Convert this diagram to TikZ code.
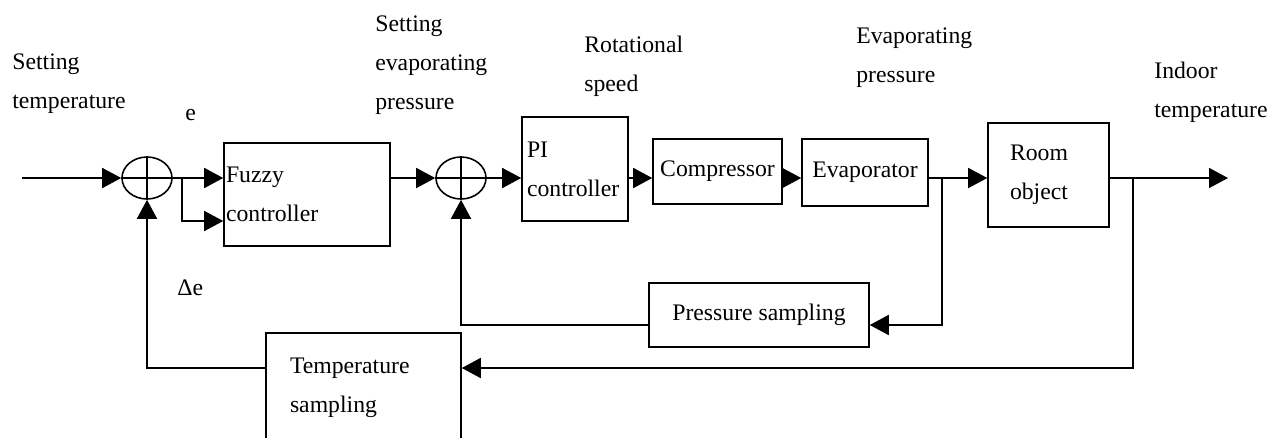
\documentclass[tikz,border=0pt]{standalone}
\usepackage{fontspec}
\setmainfont{Liberation Serif}
\usetikzlibrary{arrows.meta,positioning,calc,shapes.geometric}
\tikzset{block/.style={rectangle,draw=black,line width=0.9pt,inner sep=0pt,align=left},summer/.style={ellipse,draw=black,line width=0.9pt,minimum width=1.0cm,minimum height=0.84cm,inner sep=0pt},wire/.style={draw=black,line width=0.9pt},flow/.style={draw=black,line width=0.9pt,-{Triangle[length=0.38cm,width=0.40cm]}},signame/.style={anchor=west,inner sep=0pt,align=left,text=black}}

\begin{document}
\begin{tikzpicture}[x=0.02cm,y=-0.02cm,font=\fontsize{13.5pt}{22.2pt}\selectfont]
\path[use as bounding box] (0,0) rectangle (1270,437);
\clip (0,0) rectangle (1270,437);
\fill[white] (0,0) rectangle (1270,437);
\node[summer] (s1) at (147,178) {};\node[summer] (s2) at (461,178) {};
\draw[wire] (s1.north)--(s1.south) (s1.west)--(s1.east);\draw[wire] (s2.north)--(s2.south) (s2.west)--(s2.east);
\node[block,minimum width=3.32cm,minimum height=2.06cm,inner xsep=0.04cm,text width=3.24cm] (fz) at (307,194.5) {Fuzzy\\controller};
\node[block,minimum width=2.12cm,minimum height=2.08cm,inner xsep=0.1cm,text width=1.92cm] (pi) at (575,169) {PI\\controller};
\node[block,minimum width=2.58cm,minimum height=1.30cm,align=center] (cp) at (717.5,171.5) {Compressor};
\node[block,minimum width=2.52cm,minimum height=1.34cm,align=center] (ev) at (865,172.5) {Evaporator};
\node[block,minimum width=2.42cm,minimum height=2.08cm,inner xsep=0.44cm,text width=1.54cm] (rm) at (1048.5,175) {Room\\object};
\node[block,minimum width=4.40cm,minimum height=1.28cm,align=center] (ps) at (759,315) {Pressure sampling};
\node[block,minimum width=3.90cm,minimum height=2.18cm,inner xsep=0.48cm,text width=2.94cm] (ts) at (363.5,387.5) {Temperature\\sampling};
\node[signame] (lsp) at (12,84) {Setting\\temperature};\node[signame] (le) at (185,115) {e};\node[signame] (lde) at (177,288) {Δe};
\node[signame] (lsep) at (375,65) {Setting\\evaporating\\pressure};\node[signame] (lrs) at (584,66) {Rotational\\speed};
\node[signame] (lep) at (856,58) {Evaporating\\pressure};\node[signame] (lit) at (1154,92) {Indoor\\temperature};
\coordinate (in) at (22,178);\coordinate (br) at (182,178);\coordinate (lowin) at (182,221);
\coordinate (pbr) at (942,178);\coordinate (pfb) at (942,325);\coordinate (out) at (1228,178);
\coordinate (tbr) at (1133,178);\coordinate (tfb) at (1133,368);
\draw[flow] (in)--(s1.west);\draw[flow] (s1.east)--(s1.east -| fz.west);\draw[flow] (br)--(lowin)--(lowin -| fz.west);
\draw[flow] (fz.east |- s2)--(s2.west);\draw[flow] (s2.east)--(s2.east -| pi.west);
\draw[flow] (pi.east |- s2)--(s2 -| cp.west);\draw[flow] (cp.east |- s2)--(s2 -| ev.west);\draw[flow] (ev.east |- s2)--(s2 -| rm.west);
\draw[flow] (pbr)--(pfb)--(pfb -| ps.east);\draw[flow] (pfb -| ps.west)-|(s2.south);
\draw[flow] (rm.east |- s2)--(out);
\draw[flow] (tbr)--(tfb)--(tfb -| ts.east);\draw[flow] (tfb -| ts.west)-|(s1.south);
\end{tikzpicture}
\end{document}
